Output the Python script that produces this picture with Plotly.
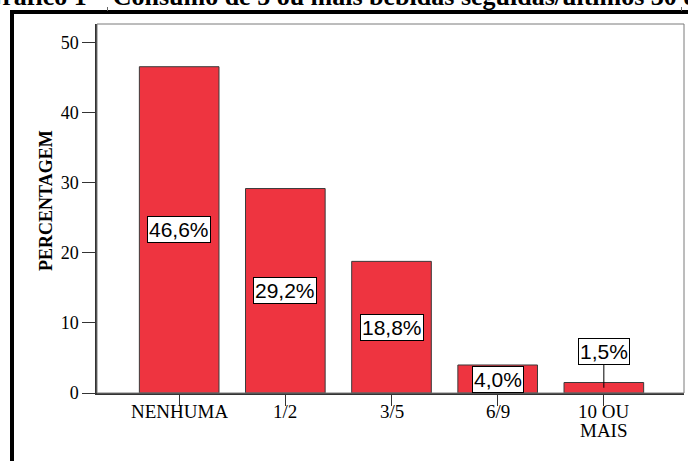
import plotly.graph_objects as go

# Data
categories = ["NENHUMA", "1/2", "3/5", "6/9", "10 OU<br>MAIS"]
percentages = [46.6, 29.2, 18.8, 4.0, 1.5]
y_ticks = [0, 10, 20, 30, 40, 50]
title_text = "Gráfico 1 – Consumo de 5 ou mais bebidas seguidas/últimos 30 dias"
y_title = "PERCENTAGEM"

W, H = 688, 461
L, R, T, B = 97, 4, 24, 68
PW, PH = W - L - R, H - T - B
Y_MAX = 52.7
X_RANGE = [-0.774, 4.755]

SERIF = "Liberation Serif, Times New Roman, serif"
SANS = "Liberation Sans, Arial, sans-serif"


def px_x(p):
    return (p - L) / PW


def px_y(p):
    return (H - B - p) / PH


def fmt(v):
    return f"{v:.1f}".replace(".", ",") + "%"


fig = go.Figure()
fig.add_trace(go.Bar(
    x=list(range(len(categories))),
    y=percentages,
    width=0.75,
    marker=dict(color="#EE3440", line=dict(color="#3a3a3a", width=1)),
    hoverinfo="skip",
))

annotations = []
px_per_unit = PH / Y_MAX
for i, v in enumerate(percentages):
    common = dict(
        x=i, xref="x", yref="y", text=fmt(v),
        font=dict(family=SANS, size=21, color="black"),
        bgcolor="white", bordercolor="black", borderwidth=1, borderpad=1,
    )
    if v * px_per_unit < 20:
        # too short for the label: lift it and connect with a leader line
        annotations.append(dict(
            **common, y=v / 2, showarrow=True, arrowhead=0, arrowwidth=1,
            arrowcolor="black", ax=0, ay=-36,
        ))
    else:
        annotations.append(dict(**common, y=v / 2, showarrow=False))

# Category labels, one annotation per line for tight line spacing
for i, cat in enumerate(categories):
    for j, line in enumerate(cat.split("<br>")):
        annotations.append(dict(
            text=line, x=i, xref="x", yref="paper",
            y=px_y(411 + 19 * j), xanchor="center", yanchor="middle",
            height=18, valign="middle",
            showarrow=False, font=dict(family=SERIF, size=19, color="black"),
        ))

# Clipped title along the top edge
annotations.append(dict(
    text=f"<b>{title_text}</b>", xref="paper", yref="paper",
    x=px_x(-20), y=px_y(13), xanchor="left", yanchor="bottom",
    showarrow=False, font=dict(family=SERIF, size=26, color="black"),
))
# Y axis title
annotations.append(dict(
    text=f"<b>{y_title}</b>", xref="paper", yref="paper",
    x=px_x(46), y=px_y(201), xanchor="center", yanchor="middle",
    textangle=-90, showarrow=False,
    font=dict(family=SERIF, size=18, color="black"),
))

shapes = [
    # plot frame
    dict(type="rect", xref="paper", yref="paper", x0=0, y0=0, x1=1, y1=1,
         line=dict(color="#7a7a7a", width=1), layer="above"),
    # outer heavy border
    dict(type="line", xref="paper", yref="paper",
         x0=px_x(12), x1=px_x(12), y0=px_y(10), y1=px_y(470),
         line=dict(color="black", width=4)),
    dict(type="line", xref="paper", yref="paper",
         x0=px_x(10), x1=px_x(700), y0=px_y(12), y1=px_y(12),
         line=dict(color="black", width=4)),
    dict(type="line", xref="paper", yref="paper",
         x0=px_x(107.5), x1=px_x(107.5), y0=px_y(7), y1=px_y(11),
         line=dict(color="#666", width=1)),
    dict(type="line", xref="paper", yref="paper",
         x0=px_x(681.5), x1=px_x(681.5), y0=px_y(7), y1=px_y(11),
         line=dict(color="#666", width=1)),
]

fig.update_layout(
    width=W, height=H,
    margin=dict(l=L, r=R, t=T, b=B),
    paper_bgcolor="white", plot_bgcolor="white",
    showlegend=False,
    annotations=annotations,
    shapes=shapes,
    xaxis=dict(
        range=X_RANGE, tickmode="array",
        tickvals=list(range(len(categories))), showticklabels=False,
        ticks="outside", ticklen=11, tickwidth=1, tickcolor="#333",
        showline=True, linecolor="#333", linewidth=1.5,
        showgrid=False, zeroline=False,
    ),
    yaxis=dict(
        range=[0, Y_MAX], tickmode="array", tickvals=y_ticks,
        ticks="outside", ticklen=13, tickwidth=1, tickcolor="#333",
        showline=True, linecolor="#333", linewidth=1.5,
        showgrid=False, zeroline=False,
        tickfont=dict(family=SERIF, size=18, color="black"),
    ),
)

fig.write_html("out.html")
